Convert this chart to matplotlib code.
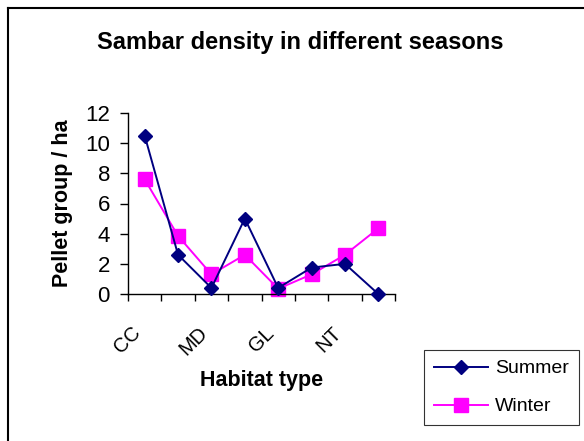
import matplotlib
matplotlib.use("Agg")
import matplotlib.pyplot as plt
from matplotlib.lines import Line2D
from matplotlib.transforms import ScaledTranslation
import numpy as np

plt.rcParams['font.family'] = ['Liberation Sans', 'DejaVu Sans']

habitats = ["CC", "", "MD", "", "GL", "", "NT", ""]
summer = [10.5, 2.6, 0.4, 5.0, 0.4, 1.75, 2.0, 0.0]
winter = [7.6, 3.85, 1.3, 2.6, 0.35, 1.3, 2.6, 4.35]
yticks = [0, 2, 4, 6, 8, 10, 12]

W, H = 584, 441
fig = plt.figure(figsize=(W / 100, H / 100), dpi=100)
ax = fig.add_axes([128 / W, 1 - 294 / H, (395 - 128) / W, (294 - 113) / H])

x = np.arange(len(habitats))
l1, = ax.plot(x, summer, color="#000080", lw=1.4, marker="D", ms=7,
              mfc="#000080", mec="#000080", label="Summer", clip_on=False, zorder=3)
l2, = ax.plot(x, winter, color="#FF00FF", lw=1.4, marker="s", ms=10,
              mfc="#FF00FF", mec="#FF00FF", label="Winter", clip_on=False, zorder=2)

ax.set_xlim(-0.5, len(habitats) - 0.5)
ax.set_ylim(0, 12)
ax.set_yticks(yticks)
ax.set_yticklabels([str(v) for v in yticks], fontsize=16)

ax.set_xticks(x)
ax.set_xticklabels(habitats, fontsize=14.5, rotation=45, ha="right", va="top")
shift = ScaledTranslation(-16 / 100, 0, fig.dpi_scale_trans)
for lbl in ax.get_xticklabels():
    lbl.set_transform(lbl.get_transform() + shift)
ax.set_xticks(np.arange(len(habitats) + 1) - 0.5, minor=True)
ax.tick_params(axis="x", which="major", length=0, pad=21)
ax.tick_params(axis="x", which="minor", length=5, width=1, direction="out")
ax.tick_params(axis="y", length=6, width=1, direction="out", pad=7)

for s in ("top", "right"):
    ax.spines[s].set_visible(False)
for s in ("left", "bottom"):
    ax.spines[s].set_linewidth(1)

ax.set_ylabel("Pellet group / ha", fontsize=15.5, fontweight="bold", labelpad=9)
ax.set_xlabel("Habitat type", fontsize=15.5, fontweight="bold", labelpad=8)

fig.text(300 / W, 1 - 42 / H, "Sambar density in different seasons",
         ha="center", va="center", fontsize=17, fontweight="bold")

leg = fig.legend(handles=[l1, l2], loc="upper left",
                 bbox_to_anchor=(424 / W, 1 - 350 / H), fontsize=14,
                 frameon=True, fancybox=False, edgecolor="black",
                 handlelength=2.8, borderpad=0.5, labelspacing=1.05,
                 handletextpad=0.35, borderaxespad=0)
leg.get_frame().set_linewidth(0.8)

# chart area border (left and top edges)
fig.add_artist(Line2D([8 / W, 8 / W], [0, 1 - 8 / H], transform=fig.transFigure,
                      color="black", lw=1.5))
fig.add_artist(Line2D([8 / W, 1], [1 - 8 / H, 1 - 8 / H], transform=fig.transFigure,
                      color="black", lw=1.5))

fig.savefig("out.png", dpi=100)
